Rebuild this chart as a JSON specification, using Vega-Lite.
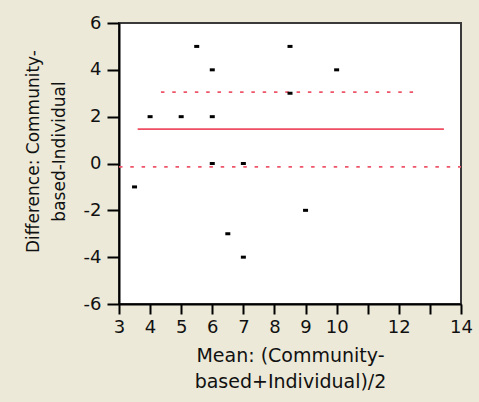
{
  "$schema": "https://vega.github.io/schema/vega-lite/v6.json",
  "width": 342,
  "height": 281,
  "autosize": {"type": "none"},
  "padding": {"left": 119, "top": 23, "right": 18, "bottom": 98},
  "background": "#ECE9D8",
  "config": {
    "view": {"fill": "white", "stroke": "#3a3a3a", "strokeWidth": 2},
    "font": "DejaVu Sans"
  },
  "datasets": {
    "points": [
      {"x": 3.5, "y": -1},
      {"x": 4, "y": 2},
      {"x": 5, "y": 2},
      {"x": 5.5, "y": 5},
      {"x": 6, "y": 4},
      {"x": 6, "y": 2},
      {"x": 6, "y": 0},
      {"x": 6.5, "y": -3},
      {"x": 7, "y": 0},
      {"x": 7, "y": -4},
      {"x": 8.5, "y": 5},
      {"x": 8.5, "y": 3},
      {"x": 9, "y": -2},
      {"x": 10, "y": 4}
    ],
    "lines": [
      {"kind": "mean", "x": 3.6, "xe": 13.45, "y": 1.47},
      {"kind": "upper", "x": 4.35, "xe": 12.57, "y": 3.05},
      {"kind": "lower", "x": 3.0, "xe": 14.0, "y": -0.14}
    ]
  },
  "encoding": {
    "x": {
      "field": "x",
      "type": "quantitative",
      "scale": {"domain": [3, 14], "nice": false, "zero": false},
      "axis": {
        "values": [3, 4, 5, 6, 7, 8, 9, 10, 11, 12, 13, 14],
        "labelExpr": "datum.value == 11 || datum.value == 13 ? '' : datum.label",
        "grid": false,
        "domainColor": "#000000",
        "domainWidth": 2,
        "tickColor": "#000000",
        "tickWidth": 2,
        "tickSize": 10,
        "labelFont": "DejaVu Sans",
        "labelFontSize": 18,
        "labelColor": "#111111",
        "labelPadding": 4,
        "labelFlush": false,
        "labelOverlap": false,
        "title": ["Mean: (Community-", "based+Individual)/2"],
        "titleFont": "DejaVu Sans",
        "titleFontSize": 19,
        "titleFontWeight": "normal",
        "titleColor": "#111111",
        "titleLineHeight": 26,
        "titleX": 171,
        "titleY": 57,
        "titleAlign": "center",
        "titleBaseline": "alphabetic"
      }
    },
    "y": {
      "field": "y",
      "type": "quantitative",
      "scale": {"domain": [-6, 6], "nice": false, "zero": false},
      "axis": {
        "values": [-6, -4, -2, 0, 2, 4, 6],
        "labelExpr": "toString(datum.value)",
        "grid": false,
        "domainColor": "#000000",
        "domainWidth": 2,
        "tickColor": "#000000",
        "tickWidth": 2,
        "tickSize": 12,
        "labelFont": "DejaVu Sans",
        "labelFontSize": 18,
        "labelColor": "#111111",
        "labelPadding": 6,
        "labelFlush": false,
        "labelOverlap": false,
        "title": ["Difference: Community-", "based-Individual"],
        "titleFont": "DejaVu Sans",
        "titleFontSize": 17,
        "titleFontWeight": "normal",
        "titleColor": "#111111",
        "titleLineHeight": 26,
        "titleAngle": -90,
        "titleX": -86,
        "titleY": 128,
        "titleAlign": "center",
        "titleBaseline": "middle"
      }
    }
  },
  "layer": [
    {
      "data": {"name": "lines"},
      "transform": [{"filter": "datum.kind == 'mean'"}],
      "mark": {"type": "rule", "color": "#EE4D62", "strokeWidth": 1.6},
      "encoding": {"x2": {"field": "xe"}}
    },
    {
      "data": {"name": "lines"},
      "transform": [{"filter": "datum.kind != 'mean'"}],
      "mark": {"type": "rule", "color": "#EE5568", "strokeWidth": 1.8, "strokeDash": [3.5, 7.8]},
      "encoding": {"x2": {"field": "xe"}}
    },
    {
      "data": {"name": "points"},
      "mark": {
        "type": "point",
        "shape": "M-1,-0.6H1V0.6H-1Z",
        "size": 25,
        "filled": true,
        "color": "#000000",
        "opacity": 1
      }
    }
  ]
}
